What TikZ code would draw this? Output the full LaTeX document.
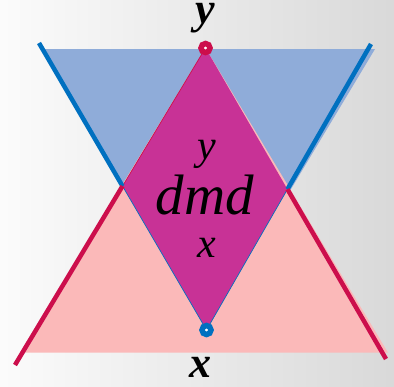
\documentclass[tikz,border=0pt]{standalone}
\usepackage{fontspec}
\setmainfont{Liberation Serif}
\definecolor{bluefill}{HTML}{8FACD9}
\definecolor{blueline}{HTML}{0070C0}
\definecolor{pinkfill}{HTML}{FBB9B9}
\definecolor{pinkline}{HTML}{CC0E4C}
\definecolor{diam}{HTML}{C83296}
\begin{document}
\begin{tikzpicture}[x=1pt,y=-1pt,
  cone/.style={line width=4.5pt},
  ring/.style={circle, fill=white, line width=5.5pt, minimum size=9pt, inner sep=0pt},
  biglabel/.style={font=\fontsize{44}{44}\selectfont\bfseries\itshape, inner sep=0pt},
  inlabel/.style={font=\fontsize{42}{42}\selectfont\itshape, inner sep=0pt},
  dmdlabel/.style={font=\fontsize{57}{57}\selectfont\itshape, inner sep=0pt}]
\shade[left color=gray!3, right color=gray!30] (0,0) rectangle (394,386);
\useasboundingbox (0,0) rectangle (394,386);
\coordinate (yt) at (205.5,48);
\coordinate (xb) at (206.5,330);
\coordinate (bl) at (39,43);
\coordinate (br) at (371,44);
\coordinate (pl) at (15,365);
\coordinate (pr) at (386,359);
\coordinate (L) at (intersection of bl--xb and pl--yt);
\coordinate (R) at (intersection of br--xb and pr--yt);
\fill[bluefill] (43,49) -- (375,49) -- (xb) -- cycle;
\fill[pinkfill] (yt) -- (388,352.7) -- (20,352.7) -- cycle;
\fill[diam] (yt) -- (L) -- (xb) -- (R) -- cycle;
\draw[pinkline, line width=0.7pt] (yt) -- (L);
\draw[blueline, line width=0.7pt] (L) -- (xb) -- (R);
\draw[cone, blueline] (bl) -- (L);
\draw[cone, blueline] (br) -- (R);
\draw[cone, pinkline] (pl) -- (L);
\draw[cone, pinkline] (pr) -- (R);
\node[ring, draw=pinkline] (cy) at (yt) {};
\node[ring, draw=blueline] (cx) at (xb) {};
\node[biglabel] (ly) at (205,18) {y};
\node[biglabel] (lx) at (200,367) {x};
\node[inlabel] (iy) at (207,154) {y};
\node[dmdlabel] (dmd) at (205,195.5) {dmd};
\node[inlabel] (ix) at (207,247.5) {x};
\end{tikzpicture}
\end{document}
